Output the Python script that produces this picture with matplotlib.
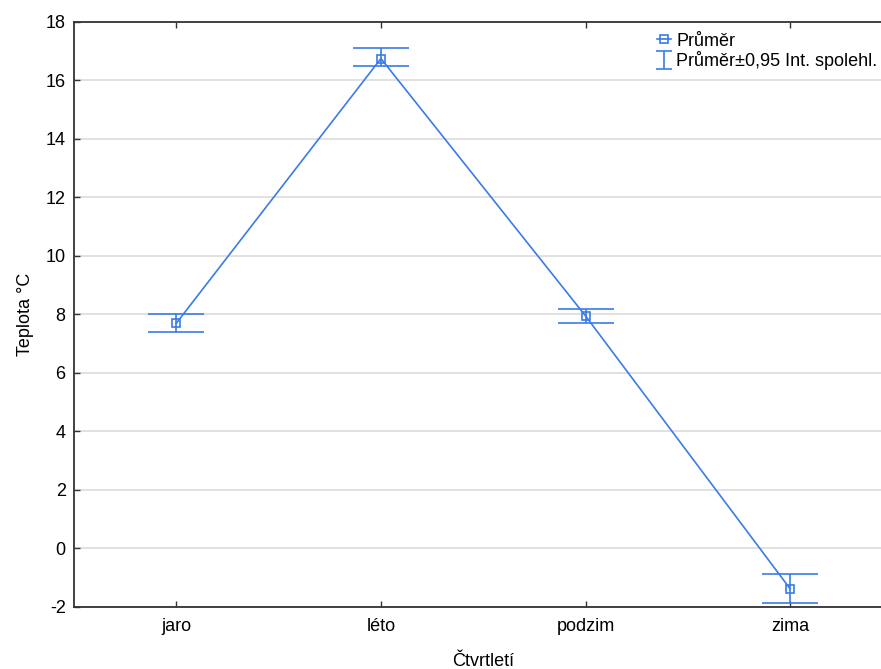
import matplotlib
matplotlib.use("Agg")
import matplotlib.pyplot as plt
import numpy as np

categories = ["jaro", "léto", "podzim", "zima"]
means = [7.70, 16.75, 7.95, -1.38]
ci_low = [7.40, 16.50, 7.71, -1.86]
ci_high = [8.00, 17.10, 8.19, -0.87]
yticks = [-2, 0, 2, 4, 6, 8, 10, 12, 14, 16, 18]

plt.rcParams['font.family'] = ['Liberation Sans', 'DejaVu Sans']
plt.rcParams['axes.unicode_minus'] = False

fig = plt.figure(figsize=(8.81, 6.69), dpi=100)
ax = fig.add_axes([0.084, 0.0927, 0.929, 0.8745])

color = '#3a7be6'
x = list(range(len(categories)))
line, = ax.plot(x, means, color=color, lw=1.2, marker='s', ms=6, mfc='none', mec=color,
                mew=1.2, zorder=3)
yerr = [[m - l for m, l in zip(means, ci_low)], [h - m for m, h in zip(means, ci_high)]]
ax.errorbar(x, means, yerr=yerr, fmt='none', ecolor=color, elinewidth=1.2, capsize=20,
            capthick=1.2, zorder=3)
# small-cap errorbar used only for the legend symbol
dummy = ax.errorbar([np.nan], [np.nan], yerr=[[1], [1]], fmt='none', ecolor=color,
                    elinewidth=1.2, capsize=6, capthick=1.2)

ax.set_xlim(-0.5, 3.5)
ax.set_ylim(-2, 18)
ax.set_yticks(yticks)
ax.set_xticks(x)
ax.set_xticklabels(categories)
ax.grid(axis='y', color='#dcdcdc', lw=1.2)
ax.set_axisbelow(True)
ax.tick_params(axis='both', direction='in', length=4, width=1, labelsize=13, color='#333333')
ax.tick_params(axis='x', top=True, pad=8)
ax.tick_params(axis='y', pad=6)
for s in ax.spines.values():
    s.set_color('#333333')
    s.set_linewidth(1.3)

ax.set_xlabel('Čtvrtletí', fontsize=13, labelpad=13)
ax.set_ylabel('Teplota °C', fontsize=13, labelpad=8)

fig.legend([line, dummy], ['Průměr', 'Průměr±0,95 Int. spolehl.'],
           loc='upper left', bbox_to_anchor=(0.737, 0.962), frameon=False,
           fontsize=13, handlelength=0.8, handletextpad=0.3, labelspacing=0.1,
           borderaxespad=0)

fig.savefig('out.png', dpi=100)
